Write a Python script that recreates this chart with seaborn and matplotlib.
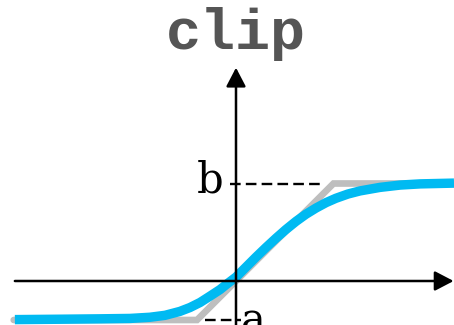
import matplotlib
matplotlib.use("Agg")
import matplotlib.pyplot as plt
import seaborn as sns
import pandas as pd

# ---- data (data units: one unit = 39 px in the reference) ----
lower_a = -1.0
upper_b = 2.5

clip_x = [-5.7, -1.0, 2.5, 5.6]
clip_y = [-1.0, -1.0, 2.5, 2.5]

soft_x = [-5.67, -4.51, -3.49, -2.72, -2.21, -1.82, -1.44, -1.18, -0.92, -0.67,
          -0.41, -0.21, 0.0, 0.26, 0.51, 0.77, 1.03, 1.28, 1.54, 1.79, 2.05,
          2.31, 2.56, 2.87, 3.18, 3.69, 4.21, 4.72, 5.59]
soft_y = [-0.99, -0.98, -0.97, -0.96, -0.93, -0.88, -0.78, -0.68, -0.55, -0.39,
          -0.22, -0.06, 0.10, 0.36, 0.61, 0.86, 1.10, 1.32, 1.53, 1.71, 1.87,
          2.01, 2.12, 2.23, 2.31, 2.40, 2.46, 2.49, 2.51]

title_text = "clip"
label_b = "b"
label_a = "a"

sns.set_style("white")

fig = plt.figure(figsize=(4.54, 3.25), dpi=100)
ax = fig.add_axes([0, 0, 1, 1])
ax.set_xlim(-236 / 39, (454 - 236) / 39)
ax.set_ylim(-(325 - 281) / 39, 281 / 39)
ax.axis("off")

# axes with arrows
arrow_style = "-|>,head_length=1.15,head_width=0.6"
ax.annotate("", xy=(5.58, 0), xytext=(-5.67, 0),
            arrowprops=dict(arrowstyle=arrow_style, color="black", lw=1.8,
                            shrinkA=0, shrinkB=0))
ax.annotate("", xy=(0, 5.47), xytext=(0, -1.2),
            arrowprops=dict(arrowstyle=arrow_style, color="black", lw=1.8,
                            shrinkA=0, shrinkB=0))

# dashed guide lines
ax.plot([-0.15, upper_b - 0.3], [upper_b, upper_b], color="black", lw=1.7,
        dashes=(4.5, 2.2))
ax.plot([lower_a + 0.2, 0.12], [lower_a, lower_a], color="black", lw=1.7,
        dashes=(4.5, 2.2))

# curves
df_clip = pd.DataFrame({"x": clip_x, "y": clip_y})
df_soft = pd.DataFrame({"x": soft_x, "y": soft_y})
sns.lineplot(data=df_clip, x="x", y="y", ax=ax, color="#BEBEBE", lw=4.8,
             sort=False, solid_joinstyle="miter")
sns.lineplot(data=df_soft, x="x", y="y", ax=ax, color="#00BAF2", lw=6.8,
             sort=False, solid_joinstyle="round", solid_capstyle="butt")

# labels
ax.text(-0.32, upper_b + 0.08, label_b, ha="right", va="center",
        fontsize=30, family="DejaVu Serif", color="black")
ax.text(0.12, lower_a - 0.05, label_a, ha="left", va="center",
        fontsize=30, family="DejaVu Serif", color="black")

ax.text(0, 6.33, title_text, ha="center", va="center", fontsize=42,
        family="Liberation Mono", fontweight="bold", color="#555555")

fig.savefig("out.png", dpi=100)
